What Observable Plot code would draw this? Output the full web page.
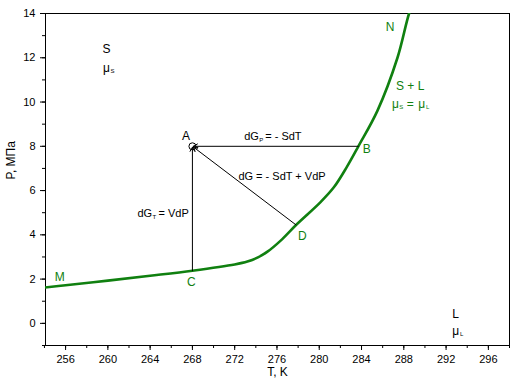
<!DOCTYPE html>
<html><head><meta charset="utf-8">
<script src="https://cdn.jsdelivr.net/npm/d3@7"></script>
<script src="https://cdn.jsdelivr.net/npm/@observablehq/plot@0.6"></script>
<style>body{margin:0;background:#fff;font-family:Arial,"Liberation Sans",sans-serif}</style>
</head><body><div id="chart"></div>
<script>
// melting curve M–N
const curveT = [254, 256, 260, 264, 268, 272, 273.2, 274.2, 275.1, 276.35, 277.9, 280.1, 281.4, 282.6, 283.7, 285.5, 287.4, 288.5, 289];
const curveP = [1.62, 1.72, 1.93, 2.15, 2.38, 2.66, 2.79, 2.98, 3.24, 3.74, 4.49, 5.47, 6.16, 7.06, 8.0, 9.6, 12.0, 14.0, 14.6];
// process points
const ptNames = ["A", "B", "C", "D"];
const ptT = [268, 283.7, 268, 277.8];
const ptP = [8, 8, 2.38, 4.45];
// green point labels
const gLabels = ["M", "N", "C", "D", "B"];
const gLabT = [255.45, 286.7, 267.9, 278.4, 284.5];
const gLabP = [2.08, 13.4, 1.85, 3.93, 7.85];
const xTicks = [256, 260, 264, 268, 272, 276, 280, 284, 288, 292, 296];
const xMinor = d3.range(254, 299, 2);
const yTicks = [0, 2, 4, 6, 8, 10, 12, 14];
const yMinor = d3.range(-1, 15, 1);
const green = "#108010";

const curve = curveT.map((t, i) => ({T: t, P: curveP[i]}));
const pts = Object.fromEntries(ptNames.map((n, i) => [n, {T: ptT[i], P: ptP[i]}]));
const arrows = ["C", "B", "D"].map(n => ({x1: pts[n].T, y1: pts[n].P, x2: pts.A.T, y2: pts.A.P}));
const glab = gLabels.map((s, i) => ({s, T: gLabT[i], P: gLabP[i]}));

const font = {fontFamily: "Arial, 'Liberation Sans', sans-serif"};
const chart = Plot.plot({
  width: 512, height: 381,
  marginLeft: 45, marginRight: 3, marginTop: 13, marginBottom: 36,
  style: {fontSize: "11px", ...font, background: "#fff"},
  x: {domain: [254.1, 298], label: null},
  y: {domain: [-1, 14], label: null},
  marks: [
    Plot.frame({stroke: "#000", strokeWidth: 1}),
    Plot.axisX(xMinor, {tickSize: 3, tickFormat: () => "", anchor: "bottom"}),
    Plot.axisX(xTicks, {tickSize: 5, tickPadding: 5, anchor: "bottom", fontSize: 11}),
    Plot.axisY(yMinor, {tickSize: 3, tickFormat: () => "", anchor: "left"}),
    Plot.axisY(yTicks, {tickSize: 5, tickPadding: 5, anchor: "left", fontSize: 11}),
    Plot.line(curve, {x: "T", y: "P", stroke: green, strokeWidth: 2.6, clip: true, curve: "catmull-rom"}),
    Plot.arrow(arrows, {x1: "x1", y1: "y1", x2: "x2", y2: "y2", stroke: "#000", strokeWidth: 1, headLength: 7, insetEnd: 1}),
    Plot.dot([pts.A], {x: "T", y: "P", r: 3.5, stroke: "#000", fill: "none", strokeWidth: 1}),
    Plot.text(glab, {x: "T", y: "P", text: "s", fill: green, fontSize: 12, ...font}),
    // black annotations
    Plot.text(["A"], {x: 267.4, y: 8.44, text: d => d, fontSize: 12, fill: "#000"}),
    Plot.text(["dG"], {x: 272.9, y: 8.44, text: d => d, textAnchor: "start", fontSize: 11}),
    Plot.text(["P"], {x: 272.9, y: 8.44, text: d => d, textAnchor: "start", fontSize: 6, dx: 15, dy: 4}),
    Plot.text(["= - SdT"], {x: 272.9, y: 8.44, text: d => d, textAnchor: "start", fontSize: 11, dx: 21}),
    Plot.text(["dG = - SdT + VdP"], {x: 272.35, y: 6.65, text: d => d, textAnchor: "start", fontSize: 11}),
    Plot.text(["dG"], {x: 262.8, y: 4.97, text: d => d, textAnchor: "start", fontSize: 11}),
    Plot.text(["T"], {x: 262.8, y: 4.97, text: d => d, textAnchor: "start", fontSize: 6, dx: 15, dy: 4}),
    Plot.text(["= VdP"], {x: 262.8, y: 4.97, text: d => d, textAnchor: "start", fontSize: 11, dx: 21}),
    Plot.text(["S"], {x: 259.87, y: 12.4, text: d => d, fontSize: 12}),
    Plot.text(["μ"], {x: 259.87, y: 11.55, text: d => d, fontSize: 12}),
    Plot.text(["S"], {x: 259.87, y: 11.55, text: d => d, fontSize: 6, dx: 6, dy: 3}),
    Plot.text(["L"], {x: 292.9, y: 0.42, text: d => d, fontSize: 12}),
    Plot.text(["μ"], {x: 292.9, y: -0.36, text: d => d, fontSize: 12}),
    Plot.text(["L"], {x: 292.9, y: -0.36, text: d => d, fontSize: 6, dx: 6, dy: 3}),
    // green region annotation
    Plot.text(["S + L"], {x: 288.6, y: 10.7, text: d => d, fontSize: 12, fill: green}),
    Plot.text(["μ"], {x: 287.2, y: 9.92, text: d => d, fontSize: 12, fill: green}),
    Plot.text(["S"], {x: 287.2, y: 9.92, text: d => d, fontSize: 6, dx: 6, dy: 3, fill: green}),
    Plot.text(["="], {x: 288.6, y: 9.92, text: d => d, fontSize: 12, fill: green}),
    Plot.text(["μ"], {x: 289.7, y: 9.92, text: d => d, fontSize: 12, fill: green}),
    Plot.text(["L"], {x: 289.7, y: 9.92, text: d => d, fontSize: 6, dx: 6, dy: 3, fill: green}),
    // axis titles
    Plot.text(["T, K"], {frameAnchor: "bottom", dy: 30, text: d => d, fontSize: 12}),
    Plot.text(["P, МПа"], {frameAnchor: "left", dx: -34, rotate: -90, text: d => d, fontSize: 12})
  ]
});
document.getElementById("chart").appendChild(chart);
</script>
</body></html>
